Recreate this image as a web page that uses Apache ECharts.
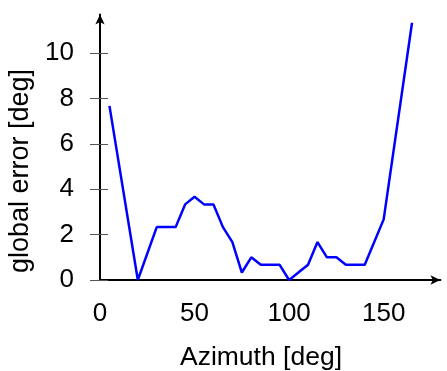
<!DOCTYPE html>
<html>
<head>
<meta charset="utf-8">
<script src="https://cdn.jsdelivr.net/npm/echarts@6/dist/echarts.min.js"></script>
<style>html,body{margin:0;padding:0;background:#fff}#c{width:447px;height:371px}</style>
</head>
<body>
<div id="c"></div>
<script>
const azimuth = [5, 20, 30, 40, 45, 50, 55, 60, 65, 70, 75, 80, 85, 95, 100, 110, 115, 120, 125, 130, 140, 150, 165];
const globalError = [7.67, 0, 2.33, 2.33, 3.33, 3.67, 3.33, 3.33, 2.33, 1.67, 0.33, 1, 0.67, 0.67, 0, 0.67, 1.67, 1, 1, 0.67, 0.67, 2.67, 11.33];
const xTicks = [0, 50, 100, 150];
const yTicks = [0, 2, 4, 6, 8, 10];
const xTitle = 'Azimuth [deg]';
const yTitle = 'global error [deg]';

const chart = echarts.init(document.getElementById('c'), null, {renderer: 'canvas'});
const font = 'Liberation Sans, Arial, Helvetica, sans-serif';
chart.setOption({
  animation: false,
  backgroundColor: '#fff',
  grid: {left: 100, right: 6.6, top: 14.4, bottom: 91, containLabel: false},
  xAxis: {
    type: 'value', min: 0, max: 180,
    axisLine: {show: true, lineStyle: {color: '#000', width: 2}, symbol: ['none', 'arrow'], symbolSize: [7, 10]},
    axisTick: {show: false},
    splitLine: {show: false},
    axisLabel: {customValues: xTicks, color: '#000', fontSize: 26, fontFamily: font, margin: 21}
  },
  yAxis: [{
    type: 'value', min: 0, max: 11.7,
    axisLine: {show: true, lineStyle: {color: '#000', width: 2}, symbol: ['none', 'arrow'], symbolSize: [7, 10]},
    axisTick: {show: true, customValues: yTicks, length: 10, lineStyle: {color: '#555', width: 1}},
    splitLine: {show: false},
    axisLabel: {customValues: yTicks, color: '#000', fontSize: 26, fontFamily: font, margin: 26}
  }, {
    type: 'value', min: 0, max: 11.7, position: 'left',
    axisLine: {show: false},
    axisTick: {show: true, inside: true, customValues: yTicks, length: 8, lineStyle: {color: '#555', width: 1}},
    splitLine: {show: false},
    axisLabel: {show: false}
  }],
  graphic: [
    {type: 'text', x: 261, y: 358, style: {text: xTitle, font: '26.5px ' + font, fill: '#000', align: 'center', verticalAlign: 'middle'}},
    {type: 'text', rotation: Math.PI / 2, x: 20.5, y: 171, style: {text: yTitle, font: '27px ' + font, fill: '#000', align: 'center', verticalAlign: 'middle'}}
  ],
  series: [{
    type: 'line',
    data: azimuth.map((a, i) => [a, globalError[i]]),
    showSymbol: false,
    lineStyle: {color: '#0000ff', width: 2.5},
    itemStyle: {color: '#0000ff'}
  }]
});
</script>
</body>
</html>
